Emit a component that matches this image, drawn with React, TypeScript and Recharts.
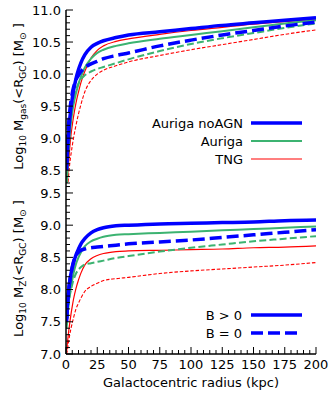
import React from 'react';
import { LineChart, Line, XAxis, YAxis, Legend } from 'recharts';

// ---------- data ----------
const radius = [0.5, 1, 2, 3, 4, 5, 6, 8, 10, 12, 15, 20, 25, 30, 40, 50, 75, 100, 125, 150, 175, 200];

// Top panel: Log10 Mgas(<R_GC)
const gasNoAgnB = [8.5, 8.75, 9.05, 9.3, 9.48, 9.62, 9.74, 9.93, 10.07, 10.18, 10.3, 10.42, 10.48, 10.52, 10.57, 10.61, 10.66, 10.71, 10.76, 10.8, 10.84, 10.88];
const gasNoAgnB0 = [8.6, 8.9, 9.2, 9.42, 9.58, 9.7, 9.79, 9.91, 9.98, 10.04, 10.1, 10.16, 10.2, 10.24, 10.29, 10.33, 10.44, 10.53, 10.61, 10.68, 10.75, 10.81];
const gasAurigaB = [8.2, 8.45, 8.8, 9.05, 9.25, 9.4, 9.52, 9.7, 9.85, 9.96, 10.1, 10.24, 10.33, 10.38, 10.44, 10.48, 10.55, 10.61, 10.67, 10.73, 10.79, 10.84];
const gasAurigaB0 = [8.2, 8.5, 8.9, 9.15, 9.35, 9.5, 9.6, 9.75, 9.85, 9.92, 9.98, 10.04, 10.08, 10.11, 10.17, 10.23, 10.36, 10.47, 10.56, 10.64, 10.72, 10.79];
const gasTngB = [8.1, 8.3, 8.6, 8.85, 9.05, 9.2, 9.33, 9.55, 9.72, 9.87, 10.04, 10.25, 10.37, 10.44, 10.51, 10.55, 10.62, 10.68, 10.73, 10.78, 10.82, 10.86];
const gasTngB0 = [7.9, 8.1, 8.4, 8.6, 8.75, 8.88, 9.0, 9.2, 9.38, 9.53, 9.72, 9.9, 10.0, 10.06, 10.13, 10.19, 10.29, 10.38, 10.46, 10.54, 10.62, 10.69];

// Bottom panel: Log10 MZ(<R_GC)
const metNoAgnB = [7.55, 7.75, 7.98, 8.13, 8.25, 8.34, 8.42, 8.54, 8.63, 8.71, 8.79, 8.88, 8.93, 8.96, 8.99, 9.0, 9.02, 9.03, 9.04, 9.05, 9.07, 9.08];
const metNoAgnB0 = [7.5, 7.7, 7.95, 8.12, 8.25, 8.35, 8.43, 8.53, 8.58, 8.61, 8.63, 8.65, 8.66, 8.67, 8.69, 8.71, 8.74, 8.77, 8.81, 8.85, 8.89, 8.93];
const metAurigaB = [7.45, 7.58, 7.78, 7.93, 8.05, 8.15, 8.25, 8.4, 8.5, 8.58, 8.67, 8.75, 8.79, 8.82, 8.85, 8.86, 8.88, 8.9, 8.92, 8.94, 8.96, 8.98];
const metAurigaB0 = [7.4, 7.55, 7.75, 7.9, 8.0, 8.08, 8.15, 8.25, 8.31, 8.35, 8.39, 8.41, 8.43, 8.45, 8.49, 8.52, 8.59, 8.65, 8.7, 8.75, 8.79, 8.83];
const metTngB = [7.05, 7.15, 7.33, 7.48, 7.62, 7.74, 7.85, 8.02, 8.15, 8.26, 8.38, 8.48, 8.53, 8.56, 8.59, 8.6, 8.61, 8.62, 8.63, 8.65, 8.66, 8.68];
const metTngB0 = [7.0, 7.05, 7.18, 7.3, 7.4, 7.48, 7.56, 7.7, 7.79, 7.87, 7.97, 8.05, 8.1, 8.14, 8.17, 8.19, 8.25, 8.29, 8.32, 8.35, 8.38, 8.42];

// ticks
const xTicks = [0, 5, 10, 15, 20, 25, 30, 35, 40, 45, 50, 55, 60, 65, 70, 75, 80, 85, 90, 95, 100, 105, 110, 115, 120, 125, 130, 135, 140, 145, 150, 155, 160, 165, 170, 175, 180, 185, 190, 195, 200];
const yTicksTop = [8.3, 8.4, 8.5, 8.6, 8.7, 8.8, 8.9, 9.0, 9.1, 9.2, 9.3, 9.4, 9.5, 9.6, 9.7, 9.8, 9.9, 10.0, 10.1, 10.2, 10.3, 10.4, 10.5, 10.6, 10.7, 10.8, 10.9, 11.0];
const yTicksBot = [7.0, 7.1, 7.2, 7.3, 7.4, 7.5, 7.6, 7.7, 7.8, 7.9, 8.0, 8.1, 8.2, 8.3, 8.4, 8.5, 8.6, 8.7, 8.8, 8.9, 9.0, 9.1, 9.2, 9.3, 9.4, 9.5, 9.6];

const legendTop = ['Auriga noAGN', 'Auriga', 'TNG'];
const legendBottom = ['B > 0', 'B = 0'];
const xTitle = 'Galactocentric radius (kpc)';

// ---------- styles ----------
const FONT = '"DejaVu Sans", sans-serif';
const BLUE = '#0000ff';
const GREEN = '#3cb371';
const RED = '#ff0000';

const seriesStyles = [
  { key: 'tngB0', color: RED, width: 1.1, dash: '3.5 1.8' },
  { key: 'tngB', color: RED, width: 1.2, dash: undefined },
  { key: 'aurB0', color: GREEN, width: 2, dash: '7 3.2' },
  { key: 'aurB', color: GREEN, width: 2, dash: undefined },
  { key: 'noagnB0', color: BLUE, width: 3.5, dash: '12 5' },
  { key: 'noagnB', color: BLUE, width: 3.5, dash: undefined },
];

const topData = radius.map((r, i) => ({
  r,
  noagnB: gasNoAgnB[i],
  noagnB0: gasNoAgnB0[i],
  aurB: gasAurigaB[i],
  aurB0: gasAurigaB0[i],
  tngB: gasTngB[i],
  tngB0: gasTngB0[i],
}));

const botData = radius.map((r, i) => ({
  r,
  noagnB: metNoAgnB[i],
  noagnB0: metNoAgnB0[i],
  aurB: metAurigaB[i],
  aurB0: metAurigaB0[i],
  tngB: metTngB[i],
  tngB0: metTngB0[i],
}));

const MAJOR = 7;
const MINOR = 4;

const isMajorY = (v: number) => Math.abs(v * 2 - Math.round(v * 2)) < 1e-6;

const XTick = (props: any) => {
  const { x, y, payload, orient, showLabel } = props;
  const v = payload.value;
  const major = v % 25 === 0;
  const len = major ? MAJOR : MINOR;
  const dir = orient === 'bottom' ? -1 : 1;
  return (
    <g>
      <line x1={x} x2={x} y1={y} y2={y + dir * len} stroke="#000" strokeWidth={1} />
      {showLabel && major ? (
        <text x={x} y={y + 15} textAnchor="middle" fontSize={13} fontFamily={FONT} fill="#000">
          {v}
        </text>
      ) : null}
    </g>
  );
};

const YTick = (props: any) => {
  const { x, y, payload, orient, showLabel } = props;
  const v = payload.value;
  const major = isMajorY(v);
  const len = major ? MAJOR : MINOR;
  const dir = orient === 'left' ? 1 : -1;
  return (
    <g>
      <line x1={x} x2={x + dir * len} y1={y} y2={y} stroke="#000" strokeWidth={1} />
      {showLabel && major ? (
        <text x={x - 5} y={y + 4.7} textAnchor="end" fontSize={13} fontFamily={FONT} fill="#000">
          {v.toFixed(1)}
        </text>
      ) : null}
    </g>
  );
};

const YLabel = ({ cx, cy, sub }: { cx: number; cy: number; sub: string }) => (
  <text
    transform={`rotate(-90 ${cx} ${cy})`}
    x={cx}
    y={cy}
    textAnchor="middle"
    fontSize={13}
    fontFamily={FONT}
    fill="#000"
  >
    <tspan>Log</tspan>
    <tspan fontSize={9} dy={3}>10</tspan>
    <tspan dy={-3}> M</tspan>
    <tspan fontSize={9} dy={3}>{sub}</tspan>
    <tspan dy={-3}>(&lt;R</tspan>
    <tspan fontSize={9} dy={3}>GC</tspan>
    <tspan dy={-3}>) [M</tspan>
    <tspan fontSize={9} dy={3}>⊙</tspan>
    <tspan dy={-3}> ]</tspan>
  </text>
);

const XLabel = ({ cx, by, text }: { cx: number; by: number; text: string }) => (
  <text x={cx} y={by} textAnchor="middle" fontSize={13} fontFamily={FONT} fill="#000">
    {text}
  </text>
);

const TopLegend = () => (
  <svg width={210} height={56} style={{ display: 'block', overflow: 'visible' }}>
    {legendTop.map((name, i) => {
      const st = [seriesStyles[5], seriesStyles[3], seriesStyles[1]][i];
      const cy = 10 + i * 18;
      return (
        <g key={name}>
          <text x={143} y={cy + 4.7} textAnchor="end" fontSize={13} fontFamily={FONT} fill="#000">
            {name}
          </text>
          <line x1={151} x2={202} y1={cy} y2={cy} stroke={st.color} strokeWidth={st.width} />
        </g>
      );
    })}
  </svg>
);

const BottomLegend = () => (
  <svg width={210} height={40} style={{ display: 'block', overflow: 'visible' }}>
    {legendBottom.map((name, i) => {
      const st = [seriesStyles[5], seriesStyles[4]][i];
      const cy = 10 + i * 18;
      return (
        <g key={name}>
          <text x={142} y={cy + 4.7} textAnchor="end" fontSize={13} fontFamily={FONT} fill="#000">
            {name}
          </text>
          <line
            x1={151}
            x2={202}
            y1={cy}
            y2={cy}
            stroke={st.color}
            strokeWidth={st.width}
            strokeDasharray={st.dash}
          />
        </g>
      );
    })}
  </svg>
);

const axisLine = { stroke: '#000', strokeWidth: 1.5 };

function Panel({
  data,
  height,
  domain,
  yTicks,
  bottomLabels,
  xAxisHeight,
  labelSub,
  legend,
  legendPos,
}: any) {
  const bottomMargin = bottomLabels ? 0 : 1;
  const plotBottom = height - xAxisHeight - bottomMargin;
  return (
    <LineChart width={330} height={height} data={data} margin={{ top: 10, right: 14, bottom: bottomMargin, left: 0 }}>
      <XAxis
        xAxisId="b"
        dataKey="r"
        type="number"
        domain={[0, 200]}
        ticks={xTicks}
        interval={0}
        allowDataOverflow
        height={xAxisHeight}
        tickSize={0}
        tickMargin={0}
        tickLine={false}
        axisLine={axisLine}
        tick={(p: any) => <XTick {...p} orient="bottom" showLabel={bottomLabels} />}
        label={bottomLabels ? <XLabel cx={191} by={plotBottom + 33} text={xTitle} /> : undefined}
      />
      <XAxis
        xAxisId="t"
        orientation="top"
        dataKey="r"
        type="number"
        domain={[0, 200]}
        ticks={xTicks}
        interval={0}
        allowDataOverflow
        height={0}
        tickSize={0}
        tickMargin={0}
        tickLine={false}
        axisLine={axisLine}
        tick={(p: any) => <XTick {...p} orient="top" showLabel={false} />}
      />
      <YAxis
        yAxisId="l"
        type="number"
        domain={domain}
        ticks={yTicks}
        interval={0}
        allowDataOverflow
        width={66}
        tickSize={0}
        tickMargin={0}
        tickLine={false}
        axisLine={axisLine}
        tick={(p: any) => <YTick {...p} orient="left" showLabel />}
        label={<YLabel cx={23} cy={10 + (plotBottom - 10) / 2} sub={labelSub} />}
      />
      <YAxis
        yAxisId="r"
        orientation="right"
        type="number"
        domain={domain}
        ticks={yTicks}
        interval={0}
        allowDataOverflow
        width={0}
        tickSize={0}
        tickMargin={0}
        tickLine={false}
        axisLine={axisLine}
        tick={(p: any) => <YTick {...p} orient="right" showLabel={false} />}
      />
      {seriesStyles.map((s) => (
        <Line
          key={s.key}
          xAxisId="b"
          yAxisId="l"
          dataKey={s.key}
          type="monotone"
          stroke={s.color}
          strokeWidth={s.width}
          strokeDasharray={s.dash}
          dot={false}
          activeDot={false}
          isAnimationActive={false}
        />
      ))}
      <Legend
        layout="horizontal"
        verticalAlign="middle"
        align="center"
        wrapperStyle={{ position: 'absolute', left: legendPos[0], top: legendPos[1], width: 210 }}
        content={legend}
      />
    </LineChart>
  );
}

export default function App() {
  return (
    <div style={{ position: 'absolute', left: 0, top: 0, width: 330, height: 396, background: '#fff' }}>
      <div style={{ position: 'absolute', left: 0, top: 0 }}>
        <Panel
          data={topData}
          height={184}
          domain={[8.3, 11.0]}
          yTicks={yTicksTop}
          bottomLabels={false}
          xAxisHeight={0}
          labelSub="gas"
          legend={() => <TopLegend />}
          legendPos={[100, 113]}
        />
      </div>
      <div style={{ position: 'absolute', left: 0, top: 173 }}>
        <Panel
          data={botData}
          height={223}
          domain={[7.0, 9.655]}
          yTicks={yTicksBot}
          bottomLabels
          xAxisHeight={42}
          labelSub="Z"
          legend={() => <BottomLegend />}
          legendPos={[100, 132]}
        />
      </div>
    </div>
  );
}
